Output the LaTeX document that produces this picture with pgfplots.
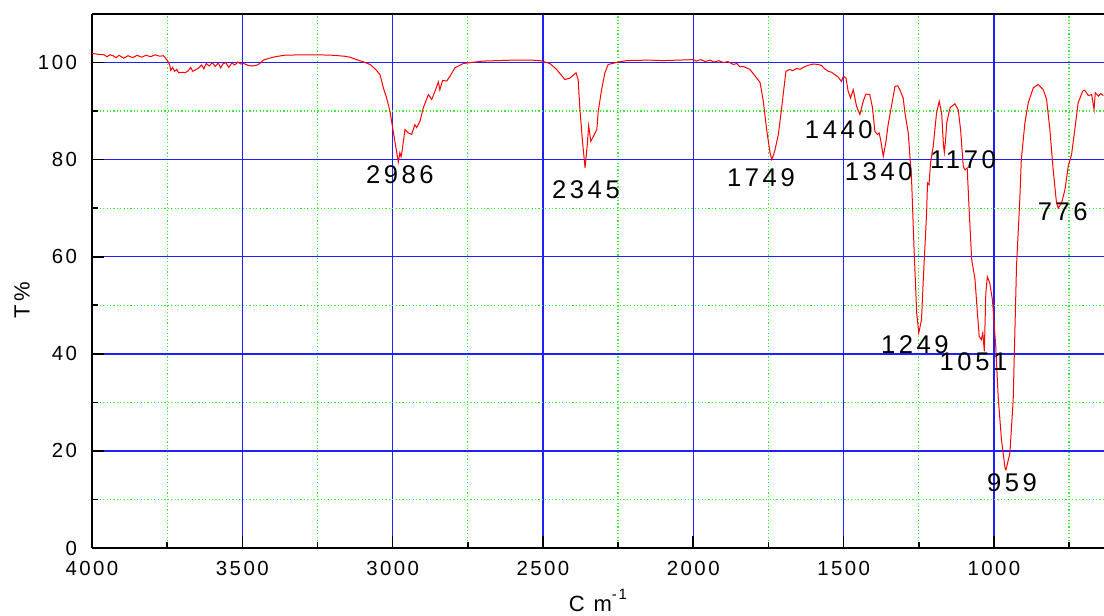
\documentclass[border=0pt]{standalone}
\usepackage{fontspec}
\setmainfont{Liberation Sans}
\newfontfamily\tickfont{Liberation Sans}[LetterSpace=12]
\newfontfamily\peakfont{Liberation Sans}[LetterSpace=14]
\usepackage{pgfplots}
\pgfplotsset{compat=1.18}
\definecolor{specred}{HTML}{FF0000}
\definecolor{gridblue}{HTML}{2020FF}
\definecolor{gridgreen}{HTML}{33F033}

\begin{document}
\begin{tikzpicture}
\begin{axis}[
  at={(46pt,34pt)}, anchor=south west,
  scale only axis, width=506pt, height=267pt,
  x dir=reverse, xmin=634, xmax=4000, ymin=0, ymax=110,
  xtick={1000,1500,...,4000}, ytick={0,20,...,100},
  minor xtick={750,1250,...,3750}, minor ytick={10,30,50,70,90},
  axis lines*=left, axis line style={black, line width=0.9pt},
  tick align=inside, major tick length=6pt, minor tick length=3pt,
  tick style={black, line width=0.8pt},
  grid=both,
  major grid style={draw=gridblue, line width=0.7pt},
  minor grid style={draw=gridgreen, line width=0.65pt, dash pattern=on 0.6pt off 1.1pt},
  /pgf/number format/1000 sep={}, /pgf/number format/assume math mode=true,
  ticklabel style={font=\tickfont\fontsize{10.2}{12}\selectfont},
  yticklabel style={xshift=-4pt},
  xticklabel style={yshift=-3pt},
  xlabel={C m\raisebox{0.55em}{\fontsize{7.5}{8}\selectfont -1}},
  xlabel style={font=\tickfont\fontsize{11}{13}\selectfont, at={(axis description cs:0.5,-0.098)}, anchor=center},
  ylabel={T\%},
  ylabel style={font=\tickfont\fontsize{11}{13}\selectfont, at={(axis description cs:-0.069,0.464)}, anchor=center},
  clip=false,
  after end axis/.code={\draw[black, line width=0.9pt] (rel axis cs:0,1) -- (rel axis cs:1,1);},
]
\addplot[color=specred, line width=0.5pt, mark=none] coordinates {
(4000,101.9) (3980,101.7) (3960,101.6) (3950,101.2) (3940,101.6) (3930,101.4) (3920,101.0) (3910,101.5)
(3895,100.9) (3880,101.4) (3865,101.0) (3850,101.5) (3835,101.1) (3820,101.5) (3805,101.2) (3790,101.6)
(3775,101.3) (3762,101.4) (3750,100.5) (3742,99.6) (3738,98.4) (3732,99.0) (3725,98.2) (3718,98.6)
(3712,97.9) (3700,98.0) (3690,97.9) (3680,98.3) (3672,99.0) (3665,98.2) (3655,98.5) (3645,98.9)
(3635,99.5) (3628,98.7) (3620,99.8) (3610,99.3) (3600,100.0) (3590,99.2) (3580,99.9) (3572,98.9)
(3565,99.7) (3555,100.0) (3545,99.0) (3535,99.9) (3525,99.5) (3515,100.1) (3505,99.7) (3495,99.8)
(3480,99.4) (3465,99.3) (3450,99.5) (3440,99.9) (3430,100.5) (3410,100.9) (3390,101.2) (3360,101.5)
(3300,101.6) (3250,101.6) (3200,101.5) (3160,101.3) (3142,101.1) (3120,100.6) (3100,100.2) (3075,99.6)
(3055,98.5) (3042,97.5) (3031,94.8) (3020,92.7) (3009,90.0) (2998,85.8) (2987,81.7) (2981,79.5)
(2976,81.4) (2972,80.6) (2968,82.0) (2959,86.2) (2948,85.5) (2937,85.2) (2926,87.2) (2920,86.6)
(2909,87.9) (2898,90.7) (2881,93.4) (2870,92.4) (2859,94.1) (2848,96.0) (2843,94.4) (2834,96.3)
(2820,96.2) (2809,97.2) (2793,98.9) (2765,99.8) (2700,100.3) (2600,100.5) (2540,100.5) (2510,100.4)
(2477,99.8) (2455,98.6) (2427,96.5) (2410,96.8) (2390,97.9) (2383,96.5) (2377,90.3) (2368,83.4)
(2360,78.3) (2353,82.8) (2348,87.0) (2341,83.8) (2333,84.7) (2321,86.2) (2316,90.0) (2305,94.4)
(2294,97.9) (2283,99.6) (2250,100.1) (2222,100.4) (2150,100.5) (2100,100.4) (2050,100.5) (2000,100.6)
(1990,100.3) (1975,100.6) (1960,100.2) (1945,100.5) (1930,100.1) (1915,100.4) (1900,100.0) (1885,100.2)
(1867,99.6) (1855,99.8) (1845,99.1) (1834,99.2) (1812,98.6) (1789,96.8) (1778,95.9) (1767,92.0)
(1756,86.2) (1745,81.5) (1739,80.0) (1733,81.0) (1728,82.1) (1717,85.2) (1706,90.7) (1692,98.2)
(1679,98.6) (1670,98.3) (1656,98.8) (1645,98.6) (1634,99.0) (1620,99.4) (1601,99.7) (1585,99.6)
(1573,99.4) (1565,98.8) (1551,98.2) (1540,98.0) (1529,97.5) (1518,97.0) (1507,96.1) (1501,97.2)
(1492,96.8) (1485,94.1) (1477,92.7) (1468,94.4) (1457,91.0) (1446,89.3) (1435,92.0) (1426,93.5)
(1413,93.4) (1404,90.7) (1396,85.8) (1388,85.2) (1382,85.5) (1377,84.1) (1368,80.7) (1359,83.8)
(1352,87.2) (1340,91.3) (1329,95.1) (1320,95.2) (1313,94.4) (1302,92.7) (1296,89.6) (1285,85.5)
(1274,75.9) (1266,62.1) (1257,48.4) (1250,44.3) (1241,47.0) (1235,55.3) (1224,69.0) (1221,75.2)
(1216,74.8) (1211,79.3) (1202,82.7) (1191,89.6) (1182,92.0) (1174,89.6) (1168,83.0) (1165,81.5)
(1161,84.0) (1157,87.6) (1146,90.7) (1130,91.5) (1119,90.3) (1111,86.2) (1102,78.6) (1096,77.9)
(1089,78.3) (1082,69.0) (1074,59.4) (1063,55.3) (1055,48.4) (1049,43.6) (1042,42.9) (1037,44.3)
(1032,40.5) (1027,52.5) (1022,55.9) (1014,54.6) (1005,51.1) (994,41.5) (986,31.2) (975,22.3)
(963,16.4) (960,16.1) (947,19.5) (936,30.5) (925,58.0) (914,71.8) (909,80.0) (897,87.6)
(886,91.7) (869,94.8) (853,95.5) (836,94.4) (825,92.4) (814,86.2) (803,77.9) (792,71.1)
(786,70.0) (775,71.1) (764,73.8) (753,78.6) (742,81.0) (731,86.2) (720,91.7) (705,94.1)
(698,94.3) (686,93.2) (675,93.4) (667,90.3) (663,93.8) (653,93.1) (645,93.6) (636,93.2)
};
\begin{scope}[every node/.style={font=\peakfont\fontsize{12.8}{14}\selectfont, inner sep=0pt}]
\node at (axis cs:2976,76.9) {2986};
\node at (axis cs:2357,73.8) {2345};
\node at (axis cs:1775,76.3) {1749};
\node at (axis cs:1516,86.2) {1440};
\node at (axis cs:1383,77.5) {1340};
\node at (axis cs:1103,80.0) {1170};
\node at (axis cs:771,69.3) {776};
\node at (axis cs:1263,41.9) {1249};
\node at (axis cs:1068,38.4) {1051};
\node at (axis cs:940,13.4) {959};
\end{scope}
\end{axis}
\pgfresetboundingbox
\useasboundingbox (0,0) rectangle (552pt,308pt);
\end{tikzpicture}
\end{document}
